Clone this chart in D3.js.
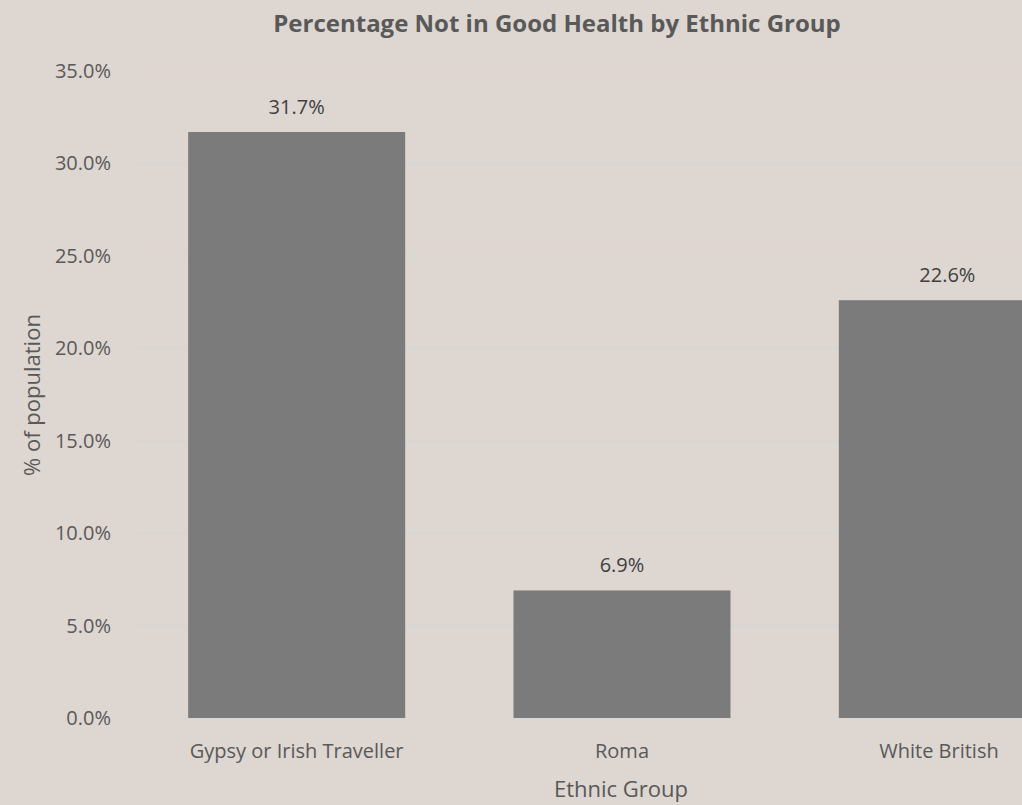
<!DOCTYPE html>
<html><head><meta charset="utf-8">
<script src="https://cdn.jsdelivr.net/npm/d3@7"></script>
<style>
html,body{margin:0;padding:0;background:#ddd6d1;overflow:hidden;}
text{font-family:"Open Sans","Noto Sans",sans-serif;fill:#595959;}
</style></head>
<body><svg id="c" width="1022" height="805"></svg>
<script>
const categories = ["Gypsy or Irish Traveller", "Roma", "White British"];
const values = [31.7, 6.9, 22.6];
const yTicks = [0, 5, 10, 15, 20, 25, 30, 35];
const titleText = "Percentage Not in Good Health by Ethnic Group";
const xTitle = "Ethnic Group";
const yTitle = "% of population";

const svg = d3.select("#c");
svg.append("rect").attr("width",1022).attr("height",805).attr("fill","#ddd6d1");

const x = d3.scaleBand().domain(categories).range([134, 1110]).paddingInner(0.333).paddingOuter(0.1665);
const y = d3.scaleLinear().domain([0, 35]).range([718, 71]);

// gridlines
svg.append("g").selectAll("line").data(yTicks).join("line")
  .attr("x1",134).attr("x2",1022)
  .attr("y1",d=>y(d)).attr("y2",d=>y(d))
  .attr("stroke","#d8d6d4").attr("stroke-width",1.5);

// y tick labels
svg.append("g").selectAll("text").data(yTicks).join("text")
  .attr("x",111).attr("y",d=>y(d)).attr("dy","0.35em")
  .attr("text-anchor","end").style("font-size","20px")
  .text(d=>d.toFixed(1)+"%");

// bars
svg.append("g").selectAll("rect").data(values).join("rect")
  .attr("x",(d,i)=>x(categories[i])).attr("width",x.bandwidth())
  .attr("y",d=>y(d)).attr("height",d=>y(0)-y(d))
  .attr("fill","#7b7b7b");

// data labels
svg.append("g").selectAll("text").data(values).join("text")
  .attr("x",(d,i)=>x(categories[i])+x.bandwidth()/2)
  .attr("y",d=>y(d)-25)
  .attr("dy","0.35em")
  .attr("text-anchor","middle").style("font-size","20px").style("fill","#404040")
  .text(d=>d.toFixed(1)+"%");

// category labels
svg.append("g").selectAll("text").data(categories).join("text")
  .attr("x",(d,i)=> i<2 ? x(d)+x.bandwidth()/2 : 939)
  .attr("y",751).attr("dy","0.35em")
  .attr("text-anchor","middle").style("font-size","20px")
  .text(d=>d);

// axis titles
svg.append("text").attr("x",621).attr("y",789).attr("dy","0.35em")
  .attr("text-anchor","middle").style("font-size","22px").text(xTitle);
svg.append("text").attr("transform","translate(32,395) rotate(-90)").attr("dy","0.35em")
  .attr("text-anchor","middle").style("font-size","22px").text(yTitle);

// title
svg.append("text").attr("x",557).attr("y",24).attr("dy","0.35em")
  .attr("text-anchor","middle").style("font-size","24px").style("font-weight","bold")
  .text(titleText);
</script></body></html>
